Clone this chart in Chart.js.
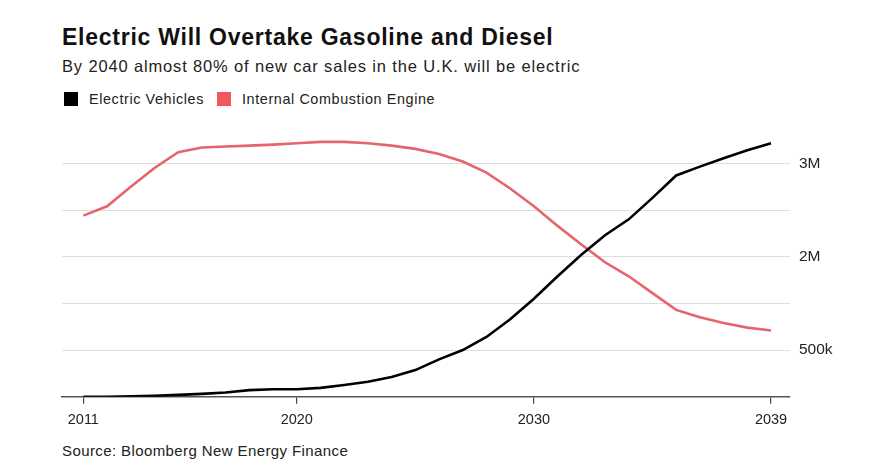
<!DOCTYPE html>
<html>
<head>
<meta charset="utf-8">
<script src="https://cdn.jsdelivr.net/npm/chart.js@4.4.1/dist/chart.umd.min.js"></script>
<style>
  body { margin: 0; background: #fff; font-family: "Liberation Sans", Arial, sans-serif; color: #111; }
  #wrap { position: relative; width: 869px; height: 475px; overflow: hidden; }
  #wrap div { line-height: 1; white-space: nowrap; }
  .title { position: absolute; left: 62px; top: 25.5px; font-size: 23px; font-weight: bold; letter-spacing: 0.75px; }
  .sub { position: absolute; left: 62px; top: 57.7px; font-size: 16.5px; letter-spacing: 0.85px; color: #222; }
  .legend { position: absolute; left: 64px; top: 90px; height: 18px; font-size: 14.4px; letter-spacing: 0.6px; color: #222; display: flex; align-items: center; }
  .legend span.item { display: flex; align-items: center; margin-right: 13px; }
  .legend i { display: inline-block; width: 14px; height: 14px; margin-right: 11px; }
  .source { position: absolute; left: 62px; top: 443.3px; font-size: 15px; letter-spacing: 0.4px; color: #222; }
  canvas { position: absolute; left: 0; top: 120px; }
</style>
</head>
<body>
<div id="wrap">
  <div class="title">Electric Will Overtake Gasoline and Diesel</div>
  <div class="sub">By 2040 almost 80% of new car sales in the U.K. will be electric</div>
  <div class="legend" id="legend"></div>
  <canvas id="chart" width="869" height="320"></canvas>
  <div class="source">Source: Bloomberg New Energy Finance</div>
</div>
<script>
// years 2011..2040, sales in millions
const years = [2011, 2012, 2013, 2014, 2015, 2016, 2017, 2018, 2019, 2020,
               2021, 2022, 2023, 2024, 2025, 2026, 2027, 2028, 2029, 2030,
               2031, 2032, 2033, 2034, 2035, 2036, 2037, 2038, 2039, 2040];
const electric = [0, 0, 0.005, 0.01, 0.02, 0.03, 0.045, 0.07, 0.08, 0.08,
                  0.095, 0.125, 0.16, 0.21, 0.285, 0.40, 0.50, 0.64, 0.83, 1.05,
                  1.29, 1.52, 1.73, 1.90, 2.13, 2.37, 2.465, 2.555, 2.64, 2.715];
const combustion = [1.94, 2.04, 2.25, 2.45, 2.62, 2.67, 2.68, 2.69, 2.70, 2.715,
                    2.73, 2.73, 2.715, 2.69, 2.655, 2.60, 2.52, 2.40, 2.23, 2.04,
                    1.83, 1.63, 1.44, 1.29, 1.11, 0.93, 0.85, 0.79, 0.74, 0.71];
const seriesNames = ['Electric Vehicles', 'Internal Combustion Engine'];
const seriesColors = ['#000000', '#e6646d'];
const legendColors = ['#000000', '#f0585f'];
const xTicks = [2011, 2020, 2030, 2040];
const xTickLabels = ['2011', '2020', '2030', '2039'];
const yTicks = [0, 0.5, 1, 1.5, 2, 2.5];
const yTickLabels = ['', '500k', '', '2M', '', '3M'];

const legend = document.getElementById('legend');
seriesNames.forEach((name, i) => {
  const item = document.createElement('span');
  item.className = 'item';
  item.innerHTML = '<i style="background:' + legendColors[i] + '"></i>' + name;
  legend.appendChild(item);
});

const toPoints = vals => vals.map((v, i) => ({ x: years[i], y: v }));

new Chart(document.getElementById('chart'), {
  type: 'line',
  data: {
    datasets: [
      { label: seriesNames[0], data: toPoints(electric), borderColor: seriesColors[0], borderWidth: 2.6, pointRadius: 0, tension: 0 },
      { label: seriesNames[1], data: toPoints(combustion), borderColor: seriesColors[1], borderWidth: 2.6, pointRadius: 0, tension: 0 }
    ]
  },
  options: {
    responsive: false,
    animation: false,
    devicePixelRatio: 1,
    layout: { padding: { left: 62, top: 20, right: 0, bottom: 0 } },
    plugins: { legend: { display: false }, tooltip: { enabled: false } },
    scales: {
      x: {
        type: 'linear',
        min: 2010.1,
        max: 2040.8,
        afterBuildTicks: s => { s.ticks = xTicks.map(v => ({ value: v })); },
        afterFit: s => { s.height = 43.3; },
        grid: { drawOnChartArea: false, tickLength: 7, color: '#444', lineWidth: 1.2 },
        border: { color: '#555', width: 1.5 },
        ticks: {
          padding: 8,
          color: '#222',
          font: { family: 'Liberation Sans', size: 14.5 },
          maxRotation: 0,
          callback: v => xTickLabels[xTicks.indexOf(v)]
        }
      },
      y: {
        position: 'right',
        min: 0,
        max: 2.75,
        afterBuildTicks: s => { s.ticks = yTicks.map(v => ({ value: v })); },
        afterFit: s => { s.width = 79; },
        grid: { drawTicks: false, color: '#dedede', lineWidth: 1 },
        border: { display: false },
        ticks: {
          padding: 9,
          color: '#222',
          font: { family: 'Liberation Sans', size: 15.5 },
          callback: v => yTickLabels[yTicks.indexOf(v)]
        }
      }
    }
  }
});
</script>
</body>
</html>
